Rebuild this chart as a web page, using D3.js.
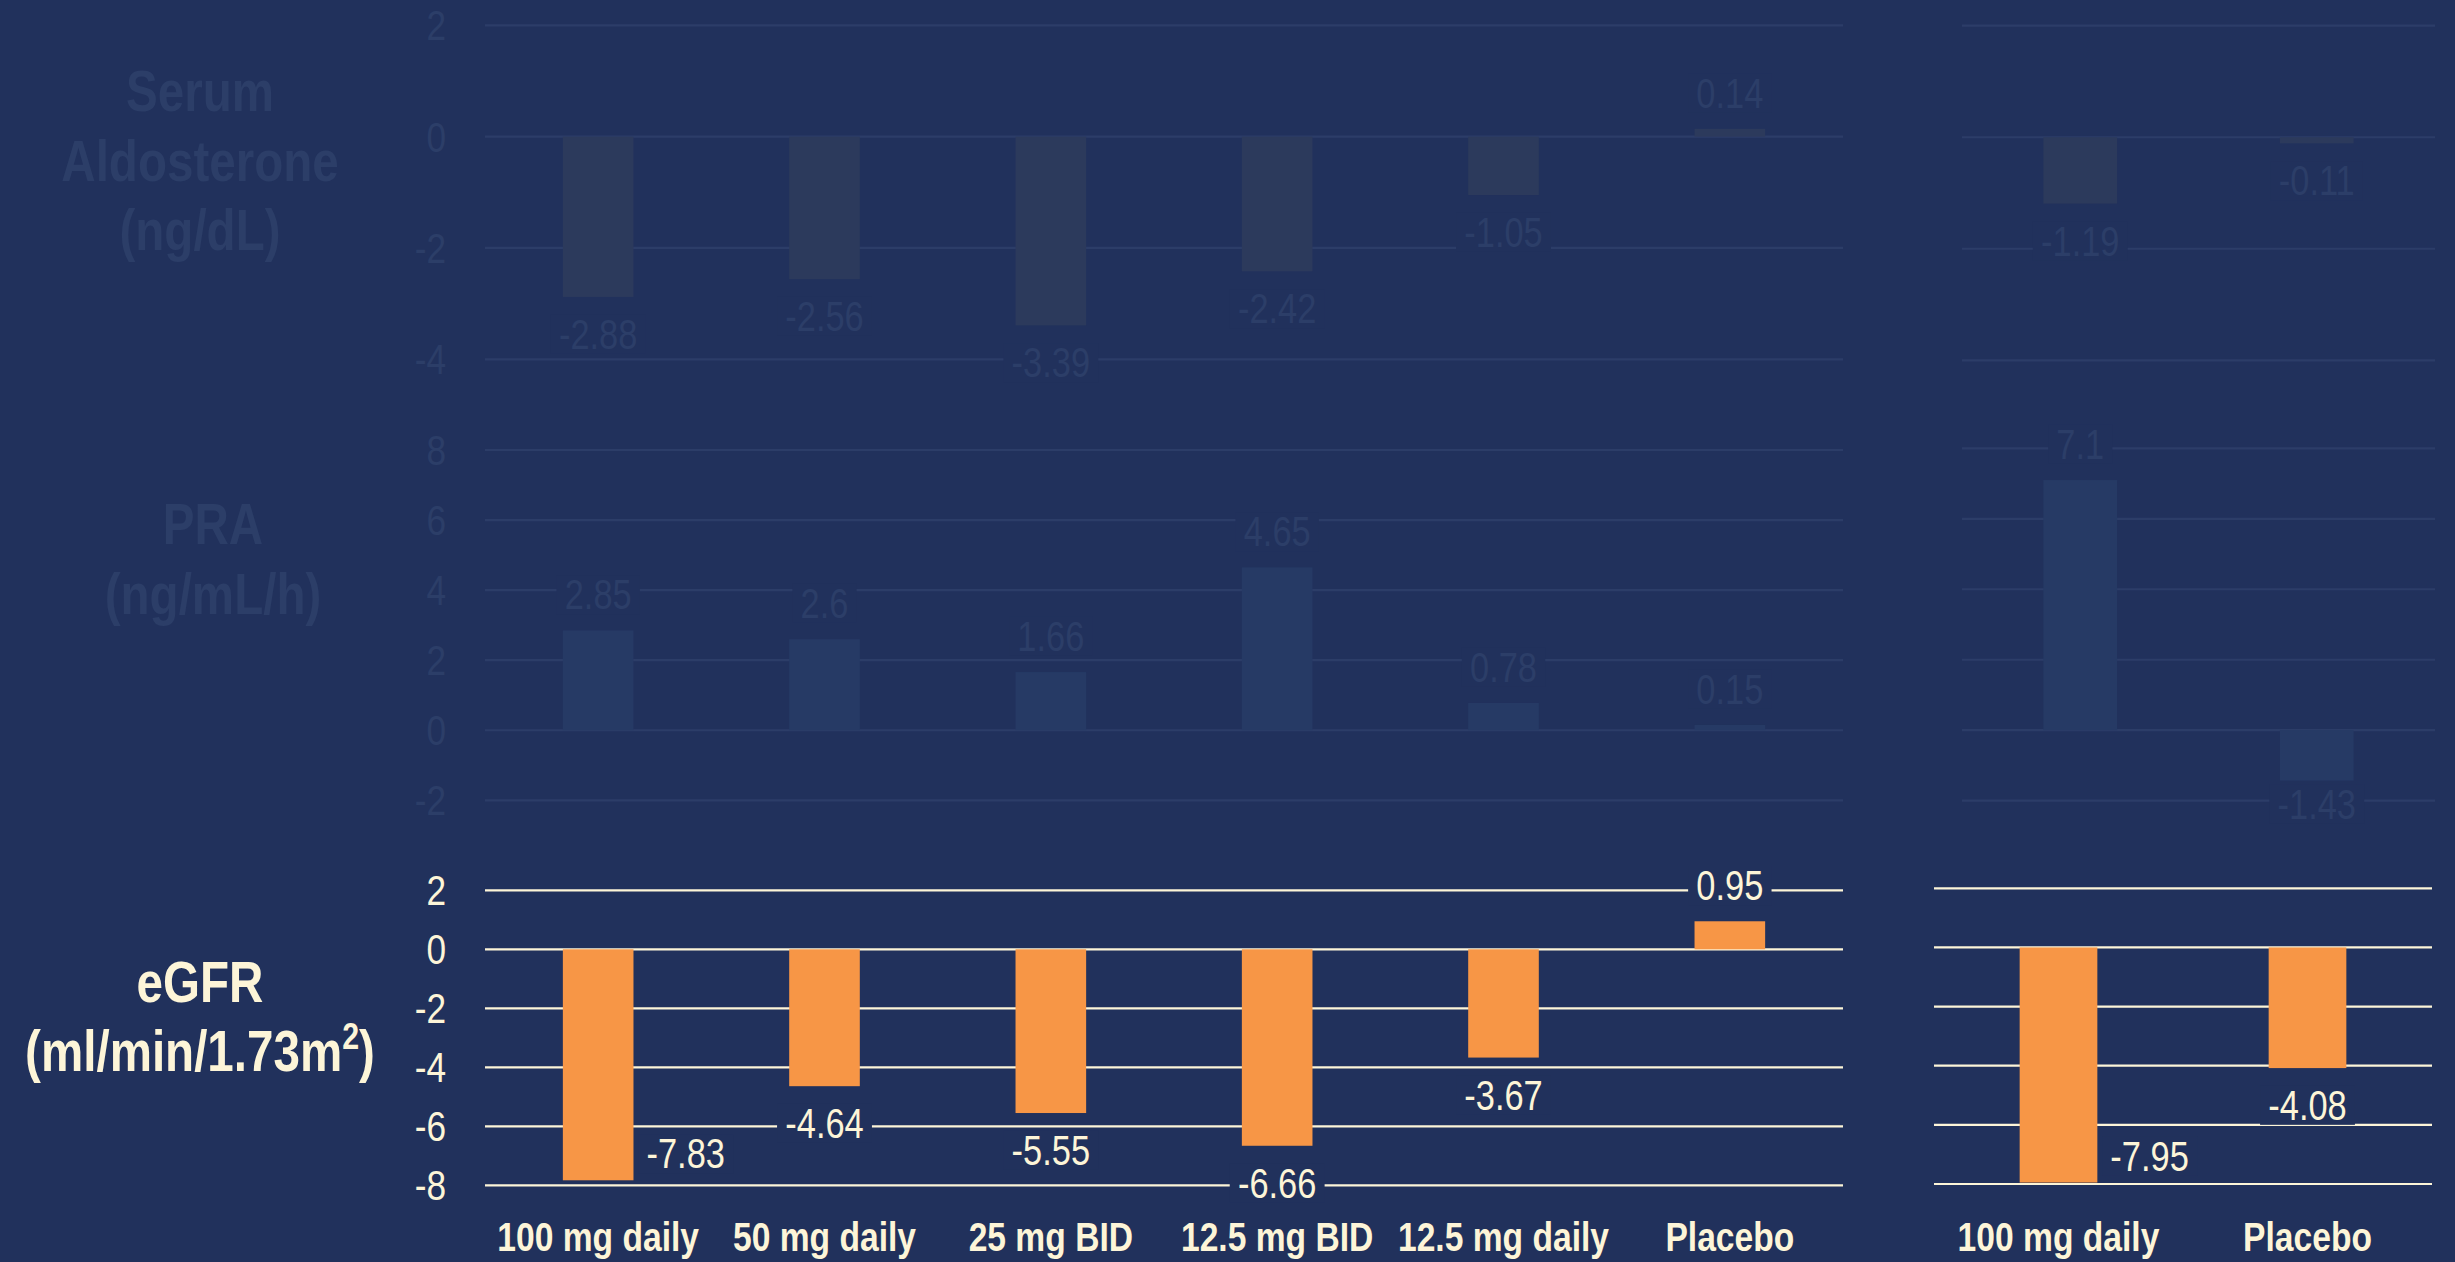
<!DOCTYPE html>
<html>
<head>
<meta charset="utf-8">
<title>Aldosterone, PRA and eGFR change</title>
<script src="https://d3js.org/d3.v7.min.js"></script>
<style>
    body { margin: 0; background: #21315c; }
    svg { display: block; }
    text { font-family: "Liberation Sans Narrow", "Arial Narrow", "Liberation Sans", sans-serif; }
</style>
</head>
<body>
<script>
    // doses, main study and extension
    var doses = ["100 mg daily", "50 mg daily", "25 mg BID", "12.5 mg BID", "12.5 mg daily", "Placebo"];
    var dosesExt = ["100 mg daily", "Placebo"];

    var aldoMain = [-2.88, -2.56, -3.39, -2.42, -1.05, 0.14];
    var aldoExt = [-1.19, -0.11];
    var praMain = [2.85, 2.6, 1.66, 4.65, 0.78, 0.15];
    var praExt = [7.1, -1.43];
    var egfrMain = [-7.83, -4.64, -5.55, -6.66, -3.67, 0.95];
    var egfrExt = [-7.95, -4.08];

    var aldoTicks = [2, 0, -2, -4];
    var praTicks = [8, 6, 4, 2, 0, -2];
    var egfrTicks = [2, 0, -2, -4, -6, -8];

    var bg = "#21315c";
    var faded = { grid: "#2c3d68", text: "#2c3e68" };
    var cream = "#fdf5d8";
    var squeeze = 0.82; // no narrow font here, so squash the text

    var svg = d3.select("body").append("svg")
        .attr("width", 2455)
        .attr("height", 1262);

    function at(x, y) {
        return "translate(" + x + "," + y + ") scale(" + squeeze + ",1)";
    }

    function panel(cfg) {
        var g = svg.append("g");
        var x = d3.scaleBand().domain(cfg.cats).range(cfg.xr)
            .paddingInner(0.688).paddingOuter(0.344);
        var y = d3.scaleLinear().domain(cfg.domain).range(cfg.yr);

        // gridlines
        g.selectAll(".grid").data(cfg.ticks).enter().append("line")
            .attr("x1", cfg.xr[0]).attr("x2", cfg.xr[1])
            .attr("y1", d => y(d)).attr("y2", d => y(d))
            .attr("stroke", cfg.grid).attr("stroke-width", 2.2);

        if (cfg.tickLabels) {
            g.selectAll(".tick").data(cfg.ticks).enter().append("text")
                .attr("transform", d => at(446, y(d) + 15))
                .attr("text-anchor", "end")
                .attr("font-size", 43)
                .attr("fill", cfg.text)
                .text(d => d);
        }

        var data = cfg.cats.map((c, i) => ({ cat: c, v: cfg.values[i] }));

        g.selectAll(".bar").data(data).enter().append("rect")
            .attr("x", d => x(d.cat))
            .attr("width", x.bandwidth())
            .attr("y", d => Math.min(y(0), y(d.v)))
            .attr("height", d => Math.abs(y(d.v) - y(0)))
            .attr("fill", cfg.bar);

        var bottom = y(cfg.domain[0]);
        data.forEach(function (d) {
            var lx, ly, anchor = "middle";
            if (d.v >= 0) {
                lx = x(d.cat) + x.bandwidth() / 2;
                ly = y(d.v) - 21;
            } else if (bottom - y(d.v) < 15) {
                // bar reaches the floor: label goes beside it
                lx = x(d.cat) + x.bandwidth() + 13;
                ly = y(d.v) - 12;
                anchor = "start";
            } else {
                lx = x(d.cat) + x.bandwidth() / 2;
                ly = Math.min(y(d.v) + 52, bottom + 18);
            }
            var lg = g.append("g").attr("transform", at(lx, ly));
            var back = lg.append("rect").attr("fill", bg);
            var t = lg.append("text")
                .attr("text-anchor", anchor)
                .attr("font-size", 42)
                .attr("fill", cfg.text)
                .text(String(d.v));
            var b = t.node().getBBox();
            back.attr("x", b.x - 10).attr("y", b.y + 4)
                .attr("width", b.width + 20).attr("height", b.height - 8);
        });

        if (cfg.catLabels) {
            g.selectAll(".cat").data(cfg.cats).enter().append("text")
                .attr("transform", d => at(x(d) + x.bandwidth() / 2, 1251))
                .attr("text-anchor", "middle")
                .attr("font-size", 41)
                .attr("font-weight", "bold")
                .attr("fill", cream)
                .text(d => d);
        }
    }

    function title(lines, cx, y0, color) {
        lines.forEach(function (l, i) {
            var t = svg.append("text")
                .attr("transform", at(cx, y0 + i * 69.5))
                .attr("text-anchor", "middle")
                .attr("font-size", 58)
                .attr("font-weight", "bold")
                .attr("fill", color);
            if (typeof l === "string") t.text(l);
            else {
                t.append("tspan").text(l[0]);
                t.append("tspan").attr("dy", -22).attr("font-size", 37).text(l[1]);
                t.append("tspan").attr("dy", 22).text(l[2]);
            }
        });
    }

    // Serum aldosterone (faded)
    panel({ cats: doses, values: aldoMain, ticks: aldoTicks, domain: [-4, 2], xr: [485, 1843], yr: [359.3, 25.3],
        grid: faded.grid, text: faded.text, bar: "#2c3a5c", tickLabels: true });
    panel({ cats: dosesExt, values: aldoExt, ticks: aldoTicks, domain: [-4, 2], xr: [1962, 2435], yr: [360.3, 25.7],
        grid: faded.grid, text: faded.text, bar: "#2c3a5c" });

    // PRA (faded)
    panel({ cats: doses, values: praMain, ticks: praTicks, domain: [-2, 8], xr: [485, 1843], yr: [800.3, 450],
        grid: faded.grid, text: faded.text, bar: "#263a65", tickLabels: true });
    panel({ cats: dosesExt, values: praExt, ticks: praTicks, domain: [-2, 8], xr: [1962, 2435], yr: [800.7, 448.3],
        grid: faded.grid, text: faded.text, bar: "#263a65" });

    // eGFR
    panel({ cats: doses, values: egfrMain, ticks: egfrTicks, domain: [-8, 2], xr: [485, 1843], yr: [1185.3, 890.3],
        grid: cream, text: cream, bar: "#f79646", tickLabels: true, catLabels: true });
    panel({ cats: dosesExt, values: egfrExt, ticks: egfrTicks, domain: [-8, 2], xr: [1934, 2432], yr: [1184, 888.3],
        grid: cream, text: cream, bar: "#f79646", catLabels: true });

    title(["Serum", "Aldosterone", "(ng/dL)"], 200, 111, faded.text);
    title(["PRA", "(ng/mL/h)"], 213, 544, faded.text);
    title(["eGFR", ["(ml/min/1.73m", "2", ")"]], 200, 1001.5, cream);
</script>
</body>
</html>
